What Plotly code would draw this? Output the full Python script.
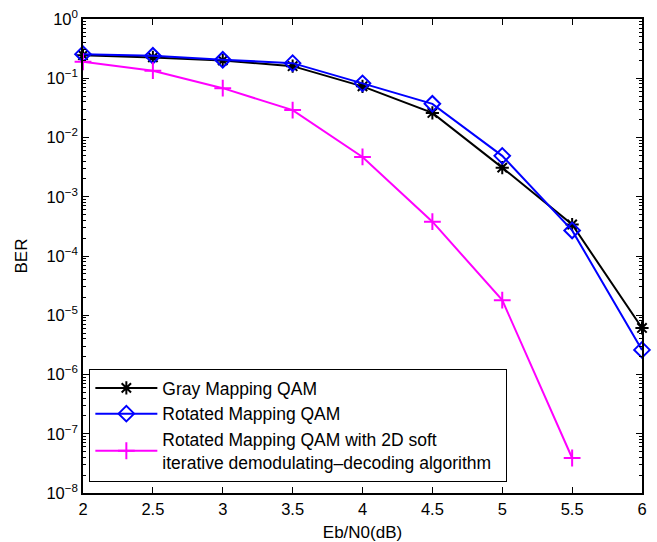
import plotly.graph_objects as go

ebn0 = [2, 2.5, 3, 3.5, 4, 4.5, 5, 5.5, 6]
ber_gray = [0.245, 0.225, 0.2, 0.16, 0.073, 0.026, 0.0031, 3.4e-4, 6.1e-6]
ber_rot = [0.255, 0.24, 0.205, 0.18, 0.082, 0.037, 0.0049, 2.7e-4, 2.6e-6]
ebn0_2d = [2, 2.5, 3, 3.5, 4, 4.5, 5, 5.5]
ber_2d = [0.19, 0.134, 0.068, 0.029, 0.0047, 3.8e-4, 1.8e-5, 3.9e-8]

names = ["Gray Mapping QAM", "Rotated Mapping QAM",
         "Rotated Mapping QAM with 2D soft<br>iterative demodulating\u2013decoding algorithm\u00a0\u00a0"]

y_exps = list(range(-8, 1))
x_ticks = [2, 2.5, 3, 3.5, 4, 4.5, 5, 5.5, 6]
x_ticktext = ["2", "2.5", "3", "3.5", "4", "4.5", "5", "5.5", "6"]

FONT = "Liberation Sans, Arial, Helvetica, sans-serif"

fig = go.Figure()
fig.add_trace(go.Scatter(x=ebn0, y=ber_gray, name=names[0], mode="lines+markers",
                         cliponaxis=False,
                         line=dict(color="black", width=2),
                         marker=dict(symbol="asterisk-open", size=11,
                                     line=dict(color="black", width=2))))
fig.add_trace(go.Scatter(x=ebn0, y=ber_rot, name=names[1], mode="lines+markers",
                         cliponaxis=False,
                         line=dict(color="#0000ff", width=2),
                         marker=dict(symbol="diamond-open", size=12, color="#0000ff",
                                     line=dict(color="#0000ff", width=2))))
fig.add_trace(go.Scatter(x=ebn0_2d, y=ber_2d, name=names[2], mode="lines+markers",
                         cliponaxis=False,
                         line=dict(color="#ff00ff", width=2),
                         marker=dict(symbol="cross-thin-open", size=12,
                                     line=dict(color="#ff00ff", width=2))))

minor_vals = [m * 10.0 ** e for e in range(-8, 0) for m in range(2, 10)]

fig.update_xaxes(range=[2, 6], tickvals=x_ticks, ticktext=x_ticktext,
                 ticks="inside", ticklen=6, tickcolor="black", tickwidth=1,
                 showline=True, linecolor="black", linewidth=1.5, mirror="ticks",
                 showgrid=False, zeroline=False, automargin=False,
                 title=dict(text="Eb/N0(dB)", standoff=10, font=dict(size=17)))
fig.update_yaxes(type="log", range=[-8, 0],
                 tickvals=[10.0 ** e for e in y_exps],
                 ticktext=["10<sup>%s</sup>" % (str(e).replace("-", "\u2212")) for e in y_exps],
                 ticks="inside", ticklen=6, tickcolor="black", tickwidth=1,
                 minor=dict(tickvals=minor_vals, ticks="inside", ticklen=3,
                            tickcolor="black", tickwidth=1, showgrid=False),
                 showline=True, linecolor="black", linewidth=1.5, mirror="ticks",
                 showgrid=False, zeroline=False, automargin=False,
                 title=dict(text="BER", standoff=14, font=dict(size=17)))

fig.update_layout(
    width=657, height=542,
    margin=dict(l=83, r=15, t=19, b=49),
    paper_bgcolor="white", plot_bgcolor="white",
    font=dict(family=FONT, size=16.5, color="black"),
    legend=dict(x=0.011, y=0.262, xanchor="left", yanchor="top",
                bgcolor="white", bordercolor="black", borderwidth=1.2,
                font=dict(size=17.5), tracegroupgap=0, itemwidth=62),
    showlegend=True,
)

fig.write_html("out.html")
